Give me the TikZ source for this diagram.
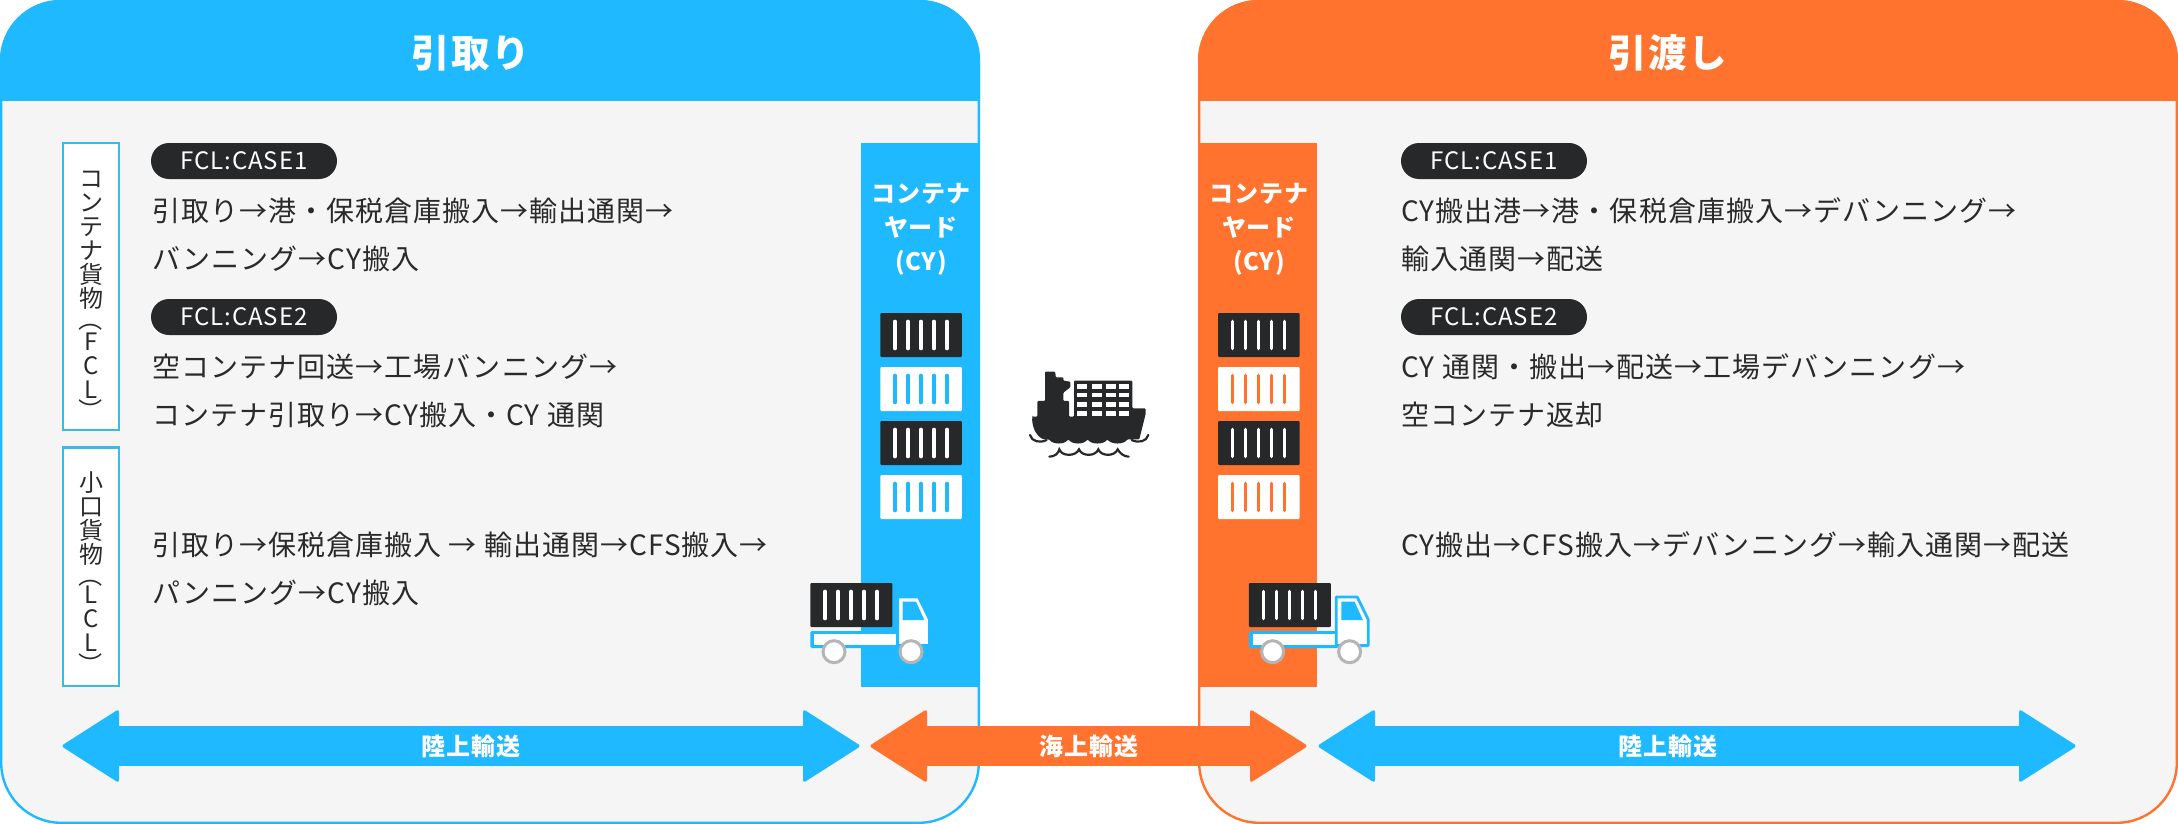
\documentclass[tikz,border=0pt]{standalone}
\usepackage{fontspec}
\usepackage{graphicx}
\setmainfont{Noto Sans CJK JP}[LetterSpace=3.7]
\definecolor{cblue}{HTML}{1EB9FF}
\definecolor{corange}{HTML}{FF732E}
\definecolor{cpanel}{HTML}{F5F5F5}
\definecolor{cbox}{HTML}{3DB9E6}
\definecolor{cink}{HTML}{26282A}
\definecolor{ctext}{HTML}{2A2A2A}
\definecolor{cgrey}{HTML}{B5B5B5}
\tikzset{
  body/.style={anchor=base west,inner sep=0pt,text=ctext,font=\fontsize{28}{28}\selectfont},
  pill/.style={fill=cink,text=white,rounded corners=18pt,minimum width=186pt,minimum height=36pt,inner sep=0pt,font=\fontsize{24}{24}\selectfont},
  head/.style={text=white,inner sep=0pt,font=\fontsize{38.5}{38.5}\selectfont\bfseries},
  cy/.style={text=white,inner sep=0pt,align=center,font=\fontsize{24}{34}\selectfont\bfseries},
  arrowlabel/.style={text=white,inner sep=0pt,font=\fontsize{24}{24}\selectfont\bfseries},
  vbox/.style={draw=cbox,line width=2.4pt,fill=white,minimum width=56.5pt,inner sep=0pt},
  vtext/.style={text=ctext,inner sep=0pt,anchor=north,font=\fontsize{24}{24}\selectfont},
  wave/.style={draw=cink,line width=2.2pt,line cap=round}
}
\newcommand{\vrw}[2][24]{\hbox to 30pt{\hss\rule[-5pt]{0pt}{#1pt}\smash{#2}\hss}}
\newcommand{\LPar}{\raisebox{6.5pt}{\rotatebox[origin=c]{-90}{（}}}
\newcommand{\RPar}{\raisebox{-6pt}{\rotatebox[origin=c]{-90}{）}}}
\newcommand{\stripes}[4]{% x-start, y-top, y-bottom, colour
  \foreach \i in {0,1,2,3,4}{\draw[#4,line width=3.6pt,line cap=round] ({#1+13*\i},#2+1.5) -- ({#1+13*\i},#3-1.5);}}
\newcommand{\ctr}[4]{% x,y,fill,stripe
  \fill[#3,rounded corners=1pt] (#1,#2) rectangle ++(81.5,44);
  \stripes{#1+14.6}{#2+7}{#2+37}{#4}}
\newcommand{\dblarrow}[3]{% left tip, right tip, colour
  \fill[#3] (#1+50,726) rectangle (#2-50,766);
  \fill[#3,rounded corners=3pt] (#1,746) -- (#1+58,709) -- (#1+58,783) -- cycle;
  \fill[#3,rounded corners=3pt] (#2,746) -- (#2-58,709) -- (#2-58,783) -- cycle;}
\newcommand{\truck}{%
  \fill[cblue,rounded corners=1.5pt] (810.3,631) rectangle (900,648);
  \fill[white] (814,634.4) rectangle (896,644.6);
  \filldraw[fill=white,draw=cblue,line width=2.8pt,line join=round] (897.6,597) -- (918.6,597) -- (929.6,619.6) -- (929.6,645.6) -- (897.6,645.6) -- cycle;
  \fill[cblue] (902.7,601.7) -- (916,601.7) -- (924.3,620) -- (902.7,620) -- cycle;
  \fill[cink,rounded corners=1pt] (810.3,583) rectangle (892.3,627);
  \stripes{825}{590}{620}{white}
  \filldraw[fill=white,draw=cgrey,line width=3pt] (834,651.7) circle[radius=11pt];
  \filldraw[fill=white,draw=cgrey,line width=3pt] (911,651.7) circle[radius=11pt];}
\begin{document}
\begin{tikzpicture}[x=1pt,y=-1pt]
\useasboundingbox (0,0) rectangle (2178,824);
% panels
\filldraw[fill=cpanel,draw=cblue,line width=2.4pt,rounded corners=60pt] (1.2,1.2) rectangle (978.8,822.8);
\filldraw[fill=cpanel,draw=corange,line width=2.4pt,rounded corners=60pt] (1199.2,1.2) rectangle (2176.8,822.8);
\fill[cblue] (0,101) [rounded corners=60pt] -- (0,0) -- (980,0) [sharp corners] -- (980,101) -- cycle;
\fill[corange] (1198,101) [rounded corners=60pt] -- (1198,0) -- (2178,0) [sharp corners] -- (2178,101) -- cycle;
\node[head] (hl) at (471,53) {引取り};
\node[head] (hr) at (1668,53) {引渡し};
% side boxes
\node[vbox,minimum height=287pt] (fclbox) at (91,286.5) {};
\node[vbox,minimum height=238.5pt] (lclbox) at (91,566.7) {};
\node[vtext] (fcl) at (91,168) {\vbox{\offinterlineskip\vrw{コ}\vrw{ン}\vrw{テ}\vrw{ナ}\vrw{貨}\vrw{物}\vrw[28]{\LPar}\vrw[15]{F}\vrw{C}\vrw{L}\vrw[15]{\RPar}}};
\node[vtext] (lcl) at (91,472.3) {\vbox{\offinterlineskip\vrw{小}\vrw{口}\vrw{貨}\vrw{物}\vrw[28]{\LPar}\vrw[12]{L}\vrw{C}\vrw{L}\vrw[16]{\RPar}}};
% columns
\fill[cblue] (861,143) rectangle (980,686.7);
\fill[corange] (1198,143) rectangle (1317,686.7);
\node[cy] (cyl) at (921,229.4) {コンテナ\\ヤード\\(CY)};
\node[cy] (cyr) at (1259,229.4) {コンテナ\\ヤード\\(CY)};
\ctr{880.4}{313}{cink}{white}
\ctr{880.4}{367}{white}{cblue}
\ctr{880.4}{421}{cink}{white}
\ctr{880.4}{475}{white}{cblue}
\ctr{1218}{313}{cink}{white}
\ctr{1218}{367}{white}{corange}
\ctr{1218}{421}{cink}{white}
\ctr{1218}{475}{white}{corange}
% left text
\node[pill] (p1) at (244,161) {FCL:CASE1};
\node[body] (l1) at (152,221) {引取り→港・保税倉庫搬入→輸出通関→};
\node[body] (l2) at (152,269) {バンニング→CY搬入};
\node[pill] (p2) at (244,317) {FCL:CASE2};
\node[body] (l3) at (152,377) {空コンテナ回送→工場バンニング→};
\node[body] (l4) at (152,425) {コンテナ引取り→CY搬入・CY 通関};
\node[body] (l5) at (152,555) {引取り→保税倉庫搬入 → 輸出通関→CFS搬入→};
\node[body] (l6) at (152,603) {パンニング→CY搬入};
% right text
\node[pill] (p3) at (1494,161) {FCL:CASE1};
\node[body] (r1) at (1401,221) {CY搬出港→港・保税倉庫搬入→デバンニング→};
\node[body] (r2) at (1401,269) {輸入通関→配送};
\node[pill] (p4) at (1494,317) {FCL:CASE2};
\node[body] (r3) at (1401,377) {CY 通関・搬出→配送→工場デバンニング→};
\node[body] (r4) at (1401,425) {空コンテナ返却};
\node[body] (r5) at (1401,555) {CY搬出→CFS搬入→デバンニング→輸入通関→配送};
% trucks
\truck
\begin{scope}[shift={(438.6,0)}]\truck\end{scope}
% ship
\begin{scope}[shift={(1000,340)},x=0.3333pt,y=-0.3333pt]
\fill[cink,rounded corners=1pt] (97,230) -- (112,230) -- (112,183) -- (135,183) -- (135,95) -- (166,95) -- (167,112) -- (190,112) -- (190,122) -- (211,125) -- (211,142) -- (190,158) -- (190,183) -- (207,183) -- (207,230) -- (222,230) -- (222,122) -- (397,122) -- (397,205) -- (437,205) -- (437,222) -- (418,298) -- (382,298)
  .. controls (370,314) and (335,314) .. (322,298)
  .. controls (310,314) and (275,314) .. (263,298)
  .. controls (250,314) and (218,314) .. (205,298)
  .. controls (192,314) and (160,314) .. (147,298)
  -- (130,298) .. controls (105,285) and (95,255) .. (97,230) -- cycle;
\foreach \y/\h in {133/15,160/12,187/13,213/15}
  \foreach \x/\w in {232/30,275/30,318/30,358/30}
    \fill[white] (\x,\y) rectangle ++(\w,\h);
\draw[wave] (90,285) .. controls (95,305) and (120,310) .. (140,300);
\draw[wave] (445,285) .. controls (440,305) and (415,310) .. (395,300);
\draw[wave] (148,350) .. controls (165,350) and (175,340) .. (178,328) .. controls (185,350) and (228,350) .. (237,328) .. controls (245,350) and (287,350) .. (295,328) .. controls (303,350) and (345,350) .. (353,328) .. controls (360,340) and (372,350) .. (386,350);
\end{scope}
% arrows
\dblarrow{61}{861}{cblue}
\dblarrow{1317}{2077}{cblue}
\dblarrow{869}{1308}{corange}
\node[arrowlabel] (a1) at (471,746) {陸上輸送};
\node[arrowlabel] (a2) at (1089,746) {海上輸送};
\node[arrowlabel] (a3) at (1668,746) {陸上輸送};
\end{tikzpicture}
\end{document}
